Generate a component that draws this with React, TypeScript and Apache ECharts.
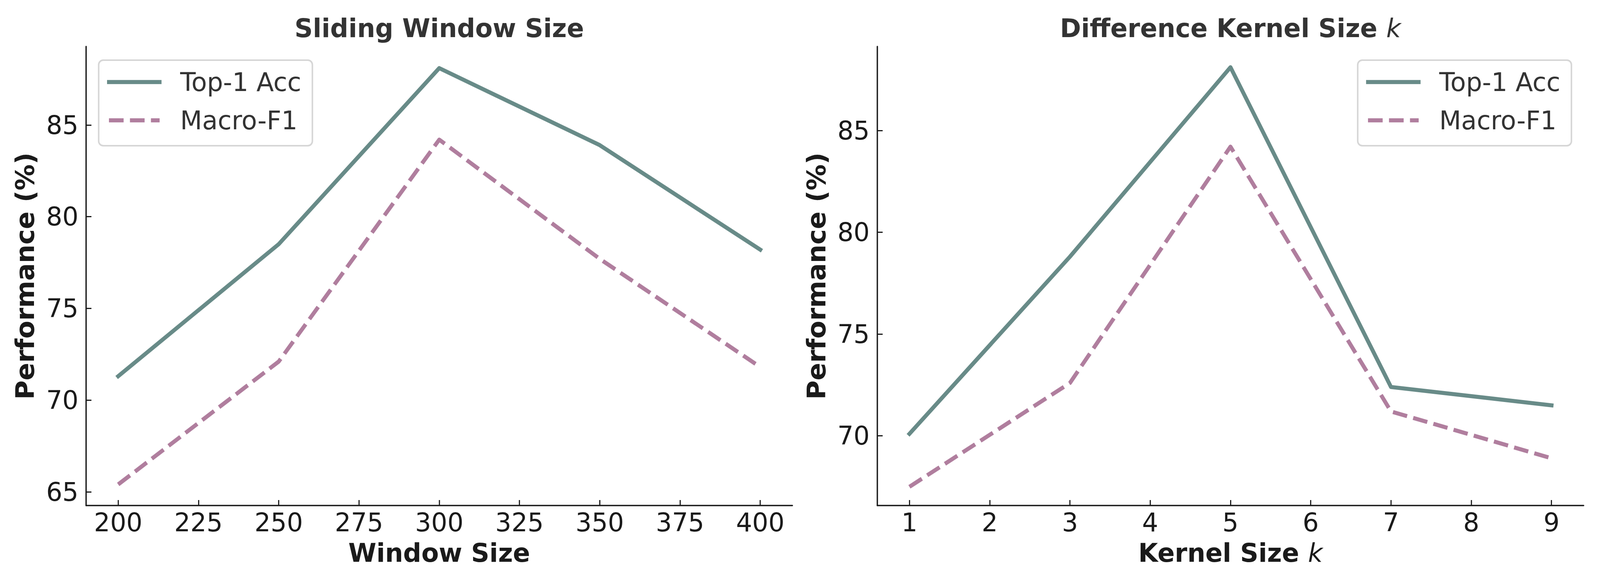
import React, { useEffect, useRef, useState } from "react";
import * as echarts from "echarts";

const windowSizes = [200, 250, 300, 350, 400];
const windowTop1 = [71.3, 78.5, 88.1, 83.9, 78.2];
const windowMacro = [65.4, 72.1, 84.2, 77.7, 71.8];

const kernelSizes = [1, 3, 5, 7, 9];
const kernelTop1 = [70.1, 78.8, 88.1, 72.4, 71.5];
const kernelMacro = [67.5, 72.6, 84.2, 71.2, 68.9];

const windowXTicks = [200, 225, 250, 275, 300, 325, 350, 375, 400];
const kernelXTicks = [1, 2, 3, 4, 5, 6, 7, 8, 9];
const windowYTicks = [65, 70, 75, 80, 85];
const kernelYTicks = [70, 75, 80, 85];

const seriesNames = ["Top-1 Acc", "Macro-F1"];

const DESIGN_W = 4200;
const DESIGN_H = 1500;
const FONT = '"DejaVu Sans", sans-serif';
const FS = 66.7;
const AXIS_COLOR = "#1a1a1a";
const TOP1_COLOR = "#688b88";
const MACRO_COLOR = "#b07e9e";
const LW = 10.4;
const DASH = [38.5, 16.6];

// legend handle shapes (solid bar with projecting caps, and dashed bar)
const SOLID_ICON = "path://M0,0h143v10.4H0z";
const DASH_ICON = "path://M0,0 M5,0h38.5v10.4h-38.5z M60.1,0h38.5v10.4h-38.5z M115.2,0h22.8v10.4h-22.8z M143,10.4";

const zip = (xs: number[], ys: number[]) => xs.map((x, i) => [x, ys[i]]);

function xAxis(gridIndex: number, min: number, max: number, ticks: number[], name: string) {
  return {
    type: "value",
    gridIndex,
    min,
    max,
    name,
    nameLocation: "middle",
    nameGap: 88,
    nameTextStyle: {
      fontFamily: FONT,
      fontSize: FS,
      fontWeight: "bold",
      color: AXIS_COLOR,
      rich: {
        i: { fontFamily: FONT, fontSize: FS, fontStyle: "italic", fontWeight: "normal", color: AXIS_COLOR },
      },
    },
    axisLine: { show: true, onZero: false, lineStyle: { color: AXIS_COLOR, width: 3.5 } },
    axisTick: { show: true, inside: true, length: 14, customValues: ticks, lineStyle: { color: AXIS_COLOR, width: 3 } },
    axisLabel: { show: true, customValues: ticks, margin: 10, fontFamily: FONT, fontSize: FS, color: AXIS_COLOR },
    splitLine: { show: false },
  };
}

function yAxis(gridIndex: number, min: number, max: number, ticks: number[]) {
  return {
    type: "value",
    gridIndex,
    min,
    max,
    name: "Performance (%)",
    nameLocation: "middle",
    nameGap: 126,
    nameTextStyle: { fontFamily: FONT, fontSize: FS, fontWeight: "bold", color: AXIS_COLOR },
    axisLine: { show: true, onZero: false, lineStyle: { color: AXIS_COLOR, width: 3.5 } },
    axisTick: { show: true, inside: true, length: 14, customValues: ticks, lineStyle: { color: AXIS_COLOR, width: 3 } },
    axisLabel: { show: true, customValues: ticks, margin: 20, fontFamily: FONT, fontSize: FS, color: AXIS_COLOR },
    splitLine: { show: false },
  };
}

function lineSeries(name: string, axisIndex: number, xs: number[], ys: number[], color: string, dashed: boolean) {
  return {
    type: "line",
    name,
    xAxisIndex: axisIndex,
    yAxisIndex: axisIndex,
    data: zip(xs, ys),
    symbol: "none",
    showSymbol: false,
    lineStyle: { color, width: LW, type: dashed ? DASH : "solid", join: "round", cap: dashed ? "butt" : "square" },
    itemStyle: { color },
    z: dashed ? 3 : 2,
  };
}

function legend(left: number) {
  return {
    data: [
      { name: seriesNames[0], icon: SOLID_ICON },
      { name: seriesNames[1], icon: DASH_ICON },
    ],
    orient: "vertical",
    left,
    top: 154,
    itemWidth: 143,
    itemHeight: 10.4,
    itemGap: 20,
    symbolKeepAspect: false,
    padding: [17, 29, 26, 22],
    backgroundColor: "#ffffff",
    borderColor: "#d6d6d6",
    borderWidth: 4,
    borderRadius: 12,
    selectedMode: false,
    itemStyle: { borderWidth: 0 },
    textStyle: { fontFamily: FONT, fontSize: FS, color: "#333333", lineHeight: 78, padding: [0, 0, 0, 44] },
  };
}

export default function App() {
  const ref = useRef<HTMLDivElement>(null);
  const [viewW] = useState(() =>
    typeof window !== "undefined" && window.innerWidth > 0 ? Math.min(window.innerWidth, DESIGN_W) : DESIGN_W
  );
  const sx = viewW / DESIGN_W;

  useEffect(() => {
    document.body.style.margin = "0";
    document.body.style.overflow = "hidden";
    if (!ref.current) return;
    const chart = echarts.init(ref.current, null, { renderer: "svg" });
    const titleStyle = {
      fill: "#333333",
      fontFamily: FONT,
      fontSize: FS,
      fontWeight: "bold",
      textAlign: "center",
      textVerticalAlign: "middle",
    };
    const option = {
      animation: false,
      backgroundColor: "#ffffff",
      grid: [
        { left: 226, top: 119, width: 1854, height: 1175 },
        { left: 2303, top: 119, width: 1854, height: 1175 },
      ],
      xAxis: [
        xAxis(0, 190, 410, windowXTicks, "Window Size"),
        xAxis(1, 0.6, 9.4, kernelXTicks, "Kernel Size {i|k}"),
      ],
      yAxis: [yAxis(0, 64.25, 89.28, windowYTicks), yAxis(1, 66.58, 89.12, kernelYTicks)],
      legend: [legend(259), legend(3564)],
      series: [
        lineSeries(seriesNames[0], 0, windowSizes, windowTop1, TOP1_COLOR, false),
        lineSeries(seriesNames[1], 0, windowSizes, windowMacro, MACRO_COLOR, true),
        lineSeries(seriesNames[0], 1, kernelSizes, kernelTop1, TOP1_COLOR, false),
        lineSeries(seriesNames[1], 1, kernelSizes, kernelMacro, MACRO_COLOR, true),
      ],
      graphic: [
        { type: "text", x: 1153, y: 72, style: { ...titleStyle, text: "Sliding Window Size" } },
        {
          type: "text",
          x: 3230,
          y: 72,
          style: {
            ...titleStyle,
            text: "Difference Kernel Size {i|k}",
            rich: {
              i: { fontFamily: FONT, fontSize: FS, fontStyle: "italic", fontWeight: "normal", fill: "#333333" },
            },
          },
        },
      ],
    };
    chart.setOption(option as any);
    return () => chart.dispose();
  }, []);

  return (
    <div style={{ width: viewW, height: DESIGN_H, overflow: "hidden", background: "#ffffff" }}>
      <div
        ref={ref}
        style={{
          width: DESIGN_W,
          height: DESIGN_H,
          transform: `scaleX(${sx})`,
          transformOrigin: "0 0",
        }}
      />
    </div>
  );
}
